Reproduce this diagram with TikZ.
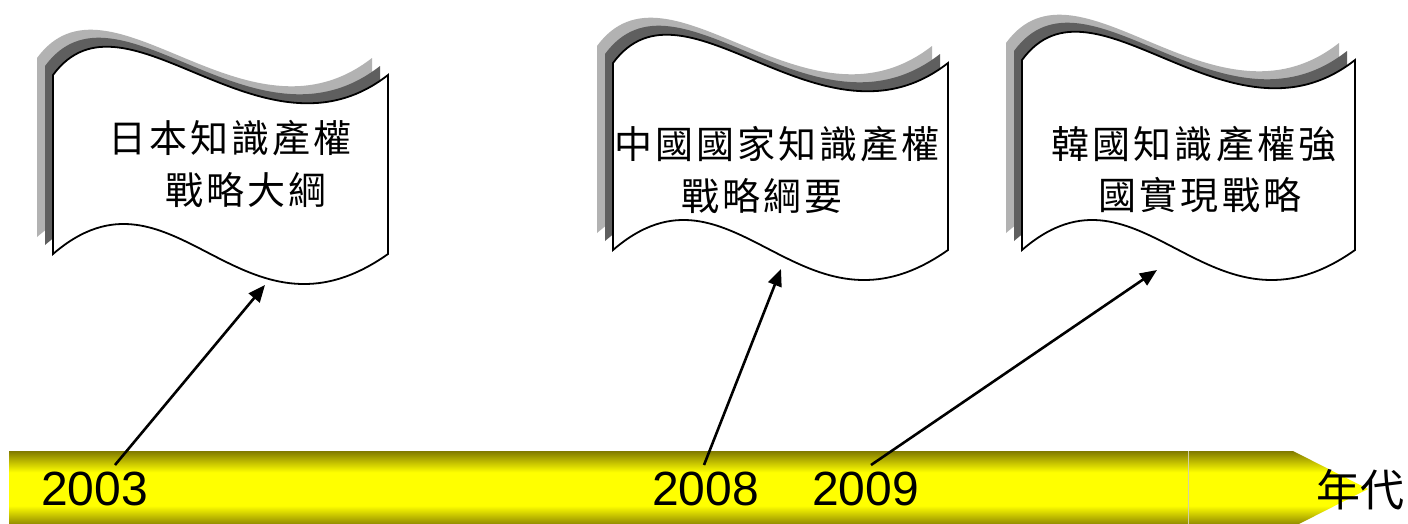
\documentclass[tikz,border=0pt]{standalone}
\usepackage{fontspec}
\setmainfont{Liberation Sans}
\newfontfamily\cjk[LetterSpace=8]{Noto Sans CJK TC}
\newfontfamily\cjkplain{Noto Sans CJK TC}
\usetikzlibrary{arrows.meta}
\definecolor{olivebar}{RGB}{128,121,0}
\definecolor{shadelight}{RGB}{178,178,178}
\definecolor{shadedark}{RGB}{95,95,95}
\pgfdeclareverticalshading{barshade}{100bp}{color(0bp)=(olivebar); color(25bp)=(olivebar); color(39bp)=(yellow); color(61bp)=(yellow); color(75bp)=(olivebar); color(100bp)=(olivebar)}
\newcommand\wavepath[4]{(#1,#2) .. controls ({#1+0.215*#3},{#2-98}) and ({#1+0.625*#3},{#2+98}) .. ({#1+#3},#2) -- ({#1+#3},{#2+#4}) .. controls ({#1+0.56*#3},{#2+#4+104}) and ({#1+0.36*#3},{#2+#4-104}) .. (#1,{#2+#4}) -- cycle}
\newcommand\drawflag[4]{%
  \begin{scope}[shift={(-16,-17)}]\fill[shadelight] \wavepath{#1}{#2}{#3}{#4};\end{scope}
  \begin{scope}[shift={(-8,-9)}]\fill[shadedark] \wavepath{#1}{#2}{#3}{#4};\end{scope}
  \filldraw[flagline] \wavepath{#1}{#2}{#3}{#4};}
\begin{document}
\begin{tikzpicture}[x=1pt,y=-1pt,
  flagline/.style={fill=white,draw=black,line width=1.8pt,line join=miter},
  cjktext/.style={font=\cjk\fontsize{38}{38}\selectfont,inner sep=0pt},
  yeartext/.style={font=\fontsize{48}{48}\selectfont,inner sep=0pt},
  unittext/.style={font=\cjkplain\fontsize{44}{44}\selectfont,inner sep=0pt},
  conn/.style={line width=2.6pt,-{Triangle[length=17pt,width=14pt]}}]
\fill[white] (0,0) rectangle (1408,523);
\useasboundingbox (0,0) rectangle (1408,523);
% timeline bar
\shade[shading=barshade] (9,451) -- (1293,451) -- (1368,489) -- (1293,527) -- (9,527) -- cycle;
\draw[white!65!olivebar,line width=0.8pt] (1188,451) -- (1188,527);
% flags
\drawflag{53}{75}{335}{179}
\drawflag{613}{63}{335}{187}
\drawflag{1022}{60}{333}{190}
% flag texts
\node[cjktext] (f1a) at (230,138) {日本知識產權};
\node[cjktext] (f1b) at (246,190) {戰略大綱};
\node[cjktext] (f2a) at (777,144) {中國國家知識產權};
\node[cjktext] (f2b) at (762,196) {戰略綱要};
\node[cjktext] (f3a) at (1194,144) {韓國知識產權強};
\node[cjktext] (f3b) at (1200,195) {國實現戰略};
% years
\node[yeartext,anchor=base west] (y2003) at (41,505) {2003};
\node[yeartext,anchor=base west] (y2008) at (652,505) {2008};
\node[yeartext,anchor=base west] (y2009) at (812,505) {2009};
\node[unittext,anchor=west] (unit) at (1316,490) {年代};
% connectors
\coordinate (s1) at (115,465);
\coordinate (t1) at (265,285);
\coordinate (s2) at (704,465);
\coordinate (t2) at (781,269);
\coordinate (s3) at (871,465);
\coordinate (t3) at (1157,270);
\draw[conn] (s1) -- (t1);
\draw[conn] (s2) -- (t2);
\draw[conn] (s3) -- (t3);
\end{tikzpicture}
\end{document}
